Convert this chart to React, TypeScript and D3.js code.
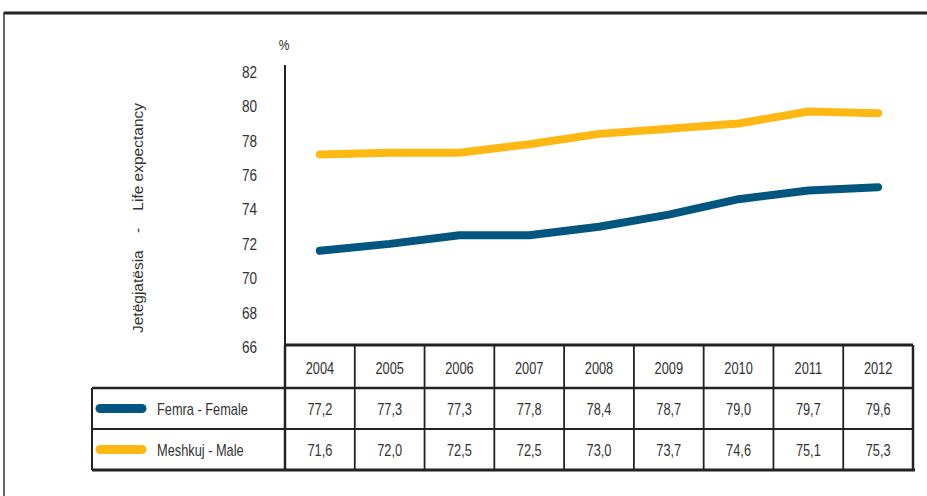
import * as d3 from 'd3';

const years = ['2004', '2005', '2006', '2007', '2008', '2009', '2010', '2011', '2012'];
const femaleValues = [77.2, 77.3, 77.3, 77.8, 78.4, 78.7, 79.0, 79.7, 79.6];
const maleValues = [71.6, 72.0, 72.5, 72.5, 73.0, 73.7, 74.6, 75.1, 75.3];
const yTicks = [66, 68, 70, 72, 74, 76, 78, 80, 82];

const BLUE = '#00567f';
const YELLOW = '#fdb813';
const SANS = '"Liberation Sans", Arial, sans-serif';

// condensed look of the original (Arial Narrow-ish): squeeze a normal sans horizontally
function NText({ x, y, anchor = 'start', size = 15, children }: any) {
  return (
    <g transform={`translate(${x},${y}) scale(0.8,1)`}>
      <text x={0} y={0} dy="0.35em" textAnchor={anchor} fontFamily={SANS} fontSize={size} fill="#333">
        {children}
      </text>
    </g>
  );
}

export default function App() {
  const width = 927;
  const height = 496;

  // band per year column, the line points sit at the column centres
  const x = d3.scaleBand<string>().domain(years).range([285, 913]);
  const y = d3.scaleLinear().domain([66, 82]).range([347, 72]);
  const cx = (i: number) => (x(years[i]) as number) + x.bandwidth() / 2;

  const line = d3.line<number>()
    .x((_, i) => cx(i))
    .y(d => y(d));

  const rows = [
    { label: 'Femra - Female', color: BLUE, values: femaleValues },
    { label: 'Meshkuj - Male', color: YELLOW, values: maleValues },
  ];

  const headTop = 345;
  const headBottom = 388;
  const rowBottoms = [429, 470];
  const legendLeft = 92;
  const tableRight = 913;

  return (
    <svg width={width} height={height} style={{ position: 'absolute', left: 0, top: 0, background: '#fff' }}>
      {/* frame */}
      <line x1={4} x2={width} y1={13} y2={13} stroke="#222" strokeWidth={3} />
      <line x1={4} x2={4} y1={12} y2={height} stroke="#333" strokeWidth={1.5} />

      {/* y axis */}
      <line x1={285} x2={285} y1={65} y2={347} stroke="#222" strokeWidth={2} />
      {yTicks.map(t => (
        <NText key={t} x={257} y={y(t)} anchor="end" size={17}>{t}</NText>
      ))}
      <NText x={284} y={45} anchor="middle" size={15}>%</NText>
      <text
        transform={`translate(143,218) rotate(-90)`}
        textAnchor="middle"
        fontFamily={SANS}
        fontSize={15.5}
        fill="#333"
        style={{ whiteSpace: 'pre' }}
      >
        {'Jetëgjatësia    -    Life expectancy'}
      </text>

      {/* lines: colours as in the source graphic */}
      <path d={line(femaleValues) ?? ''} fill="none" stroke={YELLOW} strokeWidth={8} strokeLinecap="round" strokeLinejoin="round" />
      <path d={line(maleValues) ?? ''} fill="none" stroke={BLUE} strokeWidth={8} strokeLinecap="round" strokeLinejoin="round" />

      {/* data table */}
      <g stroke="#222" fill="none">
        <line x1={284} x2={tableRight} y1={headTop} y2={headTop} strokeWidth={3} />
        <line x1={legendLeft} x2={tableRight} y1={headBottom} y2={headBottom} strokeWidth={2.5} />
        <line x1={legendLeft} x2={tableRight} y1={rowBottoms[0]} y2={rowBottoms[0]} strokeWidth={2} />
        <line x1={legendLeft} x2={tableRight + 2} y1={rowBottoms[1]} y2={rowBottoms[1]} strokeWidth={3} />
        <line x1={legendLeft} x2={legendLeft} y1={headBottom} y2={rowBottoms[1]} strokeWidth={2} />
        {years.map((yr, i) => (
          <line key={yr} x1={x(yr) as number} x2={x(yr) as number} y1={headTop} y2={rowBottoms[1]} strokeWidth={i === 0 ? 2.5 : 1.8} />
        ))}
        <line x1={tableRight} x2={tableRight} y1={headTop} y2={rowBottoms[1]} strokeWidth={2.5} />
      </g>
      {years.map((yr, i) => (
        <NText key={yr} x={cx(i)} y={(headTop + headBottom) / 2 + 2} anchor="middle" size={16}>{yr}</NText>
      ))}
      {rows.map((r, ri) => {
        const top = ri === 0 ? headBottom : rowBottoms[0];
        const mid = (top + rowBottoms[ri]) / 2 + 1;
        return (
          <g key={r.label}>
            <line x1={100} x2={142} y1={mid - 1} y2={mid - 1} stroke={r.color} strokeWidth={9} strokeLinecap="round" />
            <NText x={157} y={mid} size={16}>{r.label}</NText>
            {r.values.map((v, i) => (
              <NText key={i} x={cx(i)} y={mid} anchor="middle" size={16}>
                {v.toFixed(1).replace('.', ',')}
              </NText>
            ))}
          </g>
        );
      })}
    </svg>
  );
}
